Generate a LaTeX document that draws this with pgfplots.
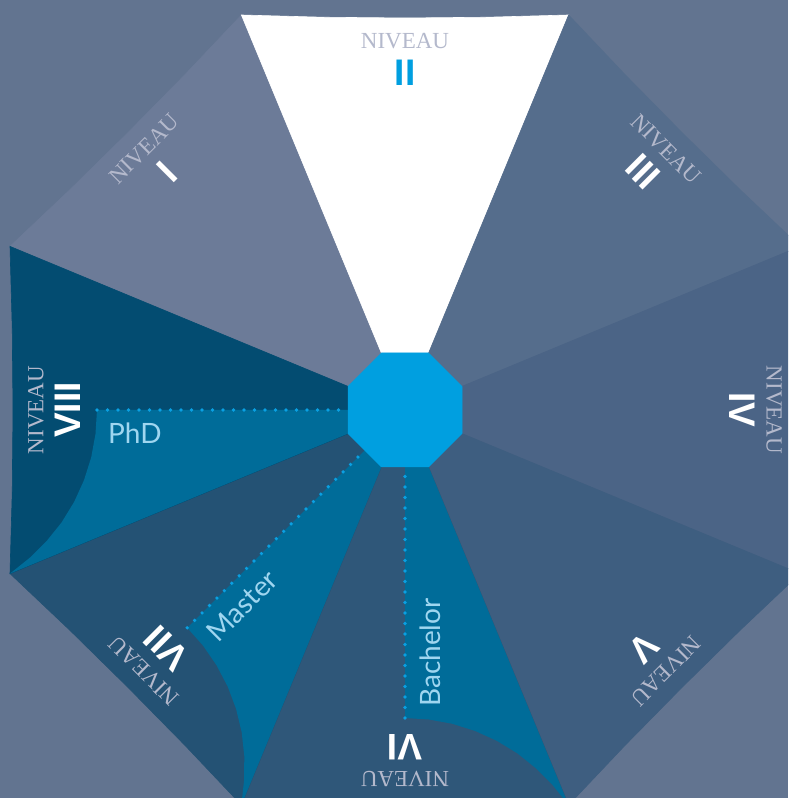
\documentclass[border=0pt]{standalone}
\usepackage{pgfplots}
\pgfplotsset{compat=1.18}
\usepackage{fontspec}
\newfontfamily\nivfont{Liberation Serif}
\newfontfamily\numfont{Liberation Sans}
\newfontfamily\labfont{Lato}
\definecolor{bg}{HTML}{627490}
\definecolor{sI}{HTML}{6C7B98}
\definecolor{sIII}{HTML}{556D8C}
\definecolor{sIV}{HTML}{4B6486}
\definecolor{sV}{HTML}{3E5E80}
\definecolor{sVI}{HTML}{2F5779}
\definecolor{sVII}{HTML}{245274}
\definecolor{sVIII}{HTML}{034C71}
\definecolor{teal}{HTML}{006C99}
\definecolor{octa}{HTML}{009FE0}
\definecolor{nivtext}{HTML}{B4B9CC}
\definecolor{labtext}{HTML}{9FD6F0}
\definecolor{dots}{HTML}{0AA0E2}
\newcommand{\niv}[3]{\node[rotate=#3, text=nivtext, inner sep=0pt, font=\nivfont\fontsize{23}{23}\selectfont] at (axis cs:#1,#2) {NIVEAU};}
\newcommand{\num}[5]{\node[rotate=#3, text=#5, inner sep=0pt, font=\numfont\bfseries\fontsize{37}{37}\selectfont] at (axis cs:#1,#2) {#4};}
\begin{document}
\begin{tikzpicture}
\begin{axis}[x=1pt, y=1pt, xmin=-405, xmax=383, ymin=-388, ymax=410, hide axis, clip=true]
% background
\addplot[fill=bg, draw=none] coordinates {(-405,-388) (383,-388) (383,410) (-405,410)} -- cycle;
% sectors
\addplot[fill=sI, draw=sI, line width=0.6pt] coordinates {(0,0) (-163.6,395) (-219.9,335.5) (-277.2,277.2) (-335.5,219.9) (-395,163.6)} -- cycle;
\addplot[fill=white, draw=white, line width=0.6pt] coordinates {(0,0) (163.6,395) (81.8,392.75) (0,392) (-81.8,392.75) (-163.6,395)} -- cycle;
\addplot[fill=sIII, draw=sIII, line width=0.6pt] coordinates {(0,0) (395,163.6) (335.5,219.9) (277.2,277.2) (219.9,335.5) (163.6,395)} -- cycle;
\addplot[fill=sIV, draw=sIV, line width=0.6pt] coordinates {(0,0) (395,-163.6) (392.75,-81.8) (392,0) (392.75,81.8) (395,163.6)} -- cycle;
\addplot[fill=sV, draw=sV, line width=0.6pt] coordinates {(0,0) (163.6,-395) (219.9,-335.5) (277.2,-277.2) (335.5,-219.9) (395,-163.6)} -- cycle;
\addplot[fill=sVI, draw=sVI, line width=0.6pt] coordinates {(0,0) (-163.6,-395) (-81.8,-392.75) (0,-392) (81.8,-392.75) (163.6,-395)} -- cycle;
\addplot[fill=sVII, draw=sVII, line width=0.6pt] coordinates {(0,0) (-395,-163.6) (-335.5,-219.9) (-277.2,-277.2) (-219.9,-335.5) (-163.6,-395)} -- cycle;
\addplot[fill=sVIII, draw=sVIII, line width=0.6pt] coordinates {(0,0) (-395,163.6) (-392.75,81.8) (-392,0) (-392.75,-81.8) (-395,-163.6)} -- cycle;
% teal overlays
\addplot[fill=teal, draw=none] coordinates {(0,0) (-308,0) (-309.5,-23.9) (-313.8,-47.4) (-321.0,-70.2) (-330.9,-92.0) (-343.4,-112.4) (-358.4,-131.1) (-375.4,-147.9) (-395,-163.6)} -- cycle;
\addplot[fill=teal, draw=none] coordinates {(0,0) (-217.8,-217.8) (-201.9,-235.7) (-188.4,-255.4) (-177.3,-276.6) (-168.9,-299.0) (-163.3,-322.3) (-160.7,-346.1) (-160.9,-370.0) (-163.6,-395)} -- cycle;
\addplot[fill=teal, draw=none] coordinates {(0,0) (0,-308) (23.9,-309.5) (47.4,-313.8) (70.2,-321.0) (92.0,-330.9) (112.4,-343.4) (131.1,-358.4) (147.9,-375.4) (163.6,-395)} -- cycle;
% dotted lines
\addplot[draw=dots, line width=3.6pt, line cap=round, dash pattern=on 0pt off 10.5pt] coordinates {(-308,0) (-57,0)};
\addplot[draw=dots, line width=3.6pt, line cap=round, dash pattern=on 0pt off 10.5pt] coordinates {(-217.8,-217.8) (-40.3,-40.3)};
\addplot[draw=dots, line width=3.6pt, line cap=round, dash pattern=on 0pt off 10.5pt] coordinates {(0,-308) (0,-57)};
% central octagon
\addplot[fill=octa, draw=octa, line width=0.5pt] coordinates {(57,23.6) (23.6,57) (-23.6,57) (-57,23.6) (-57,-23.6) (-23.6,-57) (23.6,-57) (57,-23.6)} -- cycle;
% level labels
\niv{0}{369}{0}
\niv{-260.9}{260.9}{45}
\niv{260.9}{260.9}{-45}
\niv{369}{0}{-90}
\niv{260.9}{-260.9}{-135}
\niv{0}{-369}{180}
\niv{-260.9}{-260.9}{135}
\niv{-369}{0}{90}
\num{0}{337}{0}{II}{octa}
\num{-238.3}{238.3}{45}{I}{white}
\num{238.3}{238.3}{-45}{III}{white}
\num{337}{0}{-90}{IV}{white}
\num{238.3}{-238.3}{-135}{V}{white}
\num{0}{-337}{180}{VI}{white}
\num{-238.3}{-238.3}{135}{VII}{white}
\num{-337}{0}{90}{VIII}{white}
% degree labels
\node[anchor=west, inner sep=0pt, text=labtext, font=\labfont\fontsize{28}{28}\selectfont] at (axis cs:-297,-23) {PhD};
\node[anchor=west, rotate=45, inner sep=0pt, text=labtext, font=\labfont\fontsize{28}{28}\selectfont] at (axis cs:-193.7,-226.3) {Master};
\node[anchor=west, rotate=90, inner sep=0pt, text=labtext, font=\labfont\fontsize{28}{28}\selectfont] at (axis cs:25,-297) {Bachelor};
\coordinate (sw) at (axis cs:-405,-388);
\coordinate (ne) at (axis cs:383,410);
\end{axis}
\pgfresetboundingbox
\path (sw) rectangle (ne);
\end{tikzpicture}
\end{document}
